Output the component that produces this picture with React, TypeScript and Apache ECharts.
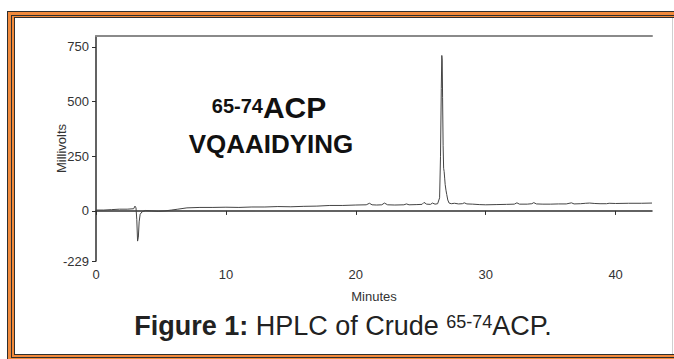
import React, { useEffect, useRef } from "react";
import * as echarts from "echarts";

const times = [0, 0.6, 1.2, 1.8, 2.4, 2.9, 3.0, 3.08, 3.14, 3.2, 3.26, 3.32, 3.4, 3.55, 3.8, 4.3, 4.8, 5.3, 5.8, 6.3, 7, 8, 9, 10, 11, 12, 13, 14, 15, 16, 17, 18, 19, 20, 20.8, 21.05, 21.25, 21.6, 22.0, 22.2, 22.45, 23.0, 23.7, 23.9, 24.1, 24.7, 25.1, 25.25, 25.45, 25.75, 25.9, 26.1, 26.3, 26.45, 26.52, 26.58, 26.62, 26.65, 26.68, 26.72, 26.76, 26.8, 26.84, 26.88, 26.94, 27.0, 27.08, 27.18, 27.35, 27.6, 27.9, 28.2, 28.35, 28.55, 29, 29.5, 30, 30.8, 31.6, 32.2, 32.4, 32.6, 33.2, 33.55, 33.7, 33.9, 34.4, 35, 35.6, 36.2, 36.6, 36.8, 37.3, 37.7, 38.0, 38.4, 38.8, 39.3, 39.5, 40, 41, 42, 42.8];
const millivolts = [4, 4, 6, 8, 8, 10, 22, 14, -40, -138, -120, -50, -15, -4, 2, 0, -2, 0, 4, 8, 14, 16, 16, 17, 16, 18, 18, 20, 19, 21, 22, 25, 25, 27, 28, 35, 28, 27, 28, 36, 28, 27, 28, 32, 28, 29, 30, 39, 31, 30, 36, 31, 33, 60, 250, 560, 711, 690, 520, 300, 195, 180, 150, 120, 95, 75, 50, 36, 33, 35, 32, 33, 37, 32, 31, 29, 28, 29, 30, 31, 37, 31, 31, 33, 38, 32, 31, 31, 32, 32, 37, 32, 33, 35, 36, 34, 33, 33, 35, 34, 35, 35, 36];
const yTicks = [-229, 0, 250, 500, 750];
const xTicks = [0, 10, 20, 30, 40];

const FONT = "'Liberation Sans', Arial, Helvetica, sans-serif";
const ORANGE = "#F28A3C";
const DARK = "#2f2f2f";

export default function App() {
  const ref = useRef<HTMLDivElement>(null);
  useEffect(() => {
    if (!ref.current) return;
    const chart = echarts.init(ref.current, undefined, { renderer: "svg" });
    const data = times.map((t, i) => [t, millivolts[i]]);
    chart.setOption({
      animation: false,
      grid: { left: 96, right: 22, top: 36, bottom: 98, containLabel: false },
      xAxis: [
        {
          type: "value",
          min: 0,
          max: 42.8,
          position: "bottom",
          name: "Minutes",
          nameLocation: "middle",
          nameGap: 29,
          nameMoveOverlap: false,
          nameTextStyle: { fontFamily: FONT, fontSize: 13, color: "#333" },
          axisLine: { show: true, lineStyle: { color: DARK, width: 1.5 } },
          axisTick: { show: true, length: 4, customValues: xTicks, lineStyle: { color: DARK } },
          axisLabel: { customValues: xTicks, fontFamily: FONT, fontSize: 13, color: "#333", margin: 7 },
          splitLine: { show: false },
        },
        {
          type: "value",
          min: 0,
          max: 42.8,
          position: "top",
          axisLine: { show: true, lineStyle: { color: "#8a8a8a", width: 2 } },
          axisTick: { show: false },
          axisLabel: { show: false },
          splitLine: { show: false },
        },
      ],
      yAxis: {
        type: "value",
        min: -229,
        max: 800,
        name: "Millivolts",
        nameLocation: "middle",
        nameRotate: 90,
        nameGap: 28,
        nameMoveOverlap: false,
        nameTextStyle: { fontFamily: FONT, fontSize: 13, color: "#333" },
        axisLine: { show: true, lineStyle: { color: DARK, width: 1.5 } },
        axisTick: { show: true, length: 4, customValues: yTicks, lineStyle: { color: DARK } },
        axisLabel: { customValues: yTicks, fontFamily: FONT, fontSize: 13, color: "#333", margin: 7 },
        splitLine: { show: false },
      },
      series: [
        {
          type: "line",
          xAxisIndex: 0,
          data,
          showSymbol: false,
          symbol: "none",
          lineStyle: { color: "#444", width: 1 },
        },
      ],
      graphic: [
        {
          type: "text",
          x: 269,
          y: 122,
          style: {
            text: "{s|65-74}{b|ACP}",
            align: "center",
            verticalAlign: "bottom",
            fontFamily: FONT,
            rich: {
              s: { fontSize: 20, fontWeight: "bold", fill: "#111", verticalAlign: "top", padding: [4, 0, 0, 0], fontFamily: FONT },
              b: { fontSize: 30, fontWeight: "bold", fill: "#111", verticalAlign: "bottom", fontFamily: FONT },
            },
          },
        },
        {
          type: "text",
          x: 271,
          y: 144,
          style: {
            text: "VQAAIDYING",
            fontFamily: FONT,
            fontSize: 26,
            fontWeight: "bold",
            fill: "#111",
            align: "center",
            verticalAlign: "middle",
          },
        },
        {
          type: "text",
          x: 343,
          y: 326,
          style: {
            text: "{b|Figure 1:}{r| HPLC of Crude }{s|65-74}{r|ACP.}",
            align: "center",
            verticalAlign: "middle",
            fontFamily: FONT,
            rich: {
              b: { fontSize: 27, fontWeight: "bold", fill: "#222", fontFamily: FONT, verticalAlign: "bottom" },
              r: { fontSize: 27, fill: "#222", fontFamily: FONT, verticalAlign: "bottom" },
              s: { fontSize: 18, fill: "#222", fontFamily: FONT, verticalAlign: "top" },
            },
          },
        },
      ],
    });
    return () => chart.dispose();
  }, []);

  const layer = (l: number, t: number, b: number, color: string): React.CSSProperties => ({
    position: "absolute",
    left: l,
    top: t,
    width: 800,
    height: b - t,
    background: color,
  });

  return (
    <div style={{ position: "fixed", left: 0, top: 0, width: 674, height: 359, background: "#fff", overflow: "hidden" }}>
      <div style={layer(7, 11, 362, DARK)} />
      <div style={layer(8, 12, 361, ORANGE)} />
      <div style={layer(11, 15, 358, DARK)} />
      <div style={layer(12, 16, 357, ORANGE)} />
      <div style={layer(14, 17, 355, DARK)} />
      <div style={layer(15, 18, 354, "#fff")} />
      <div style={{ position: "absolute", left: 672, top: 18, width: 1, height: 336, background: "#cfcfcf" }} />
      <div ref={ref} style={{ position: "absolute", left: 0, top: 0, width: 674, height: 359 }} />
    </div>
  );
}
